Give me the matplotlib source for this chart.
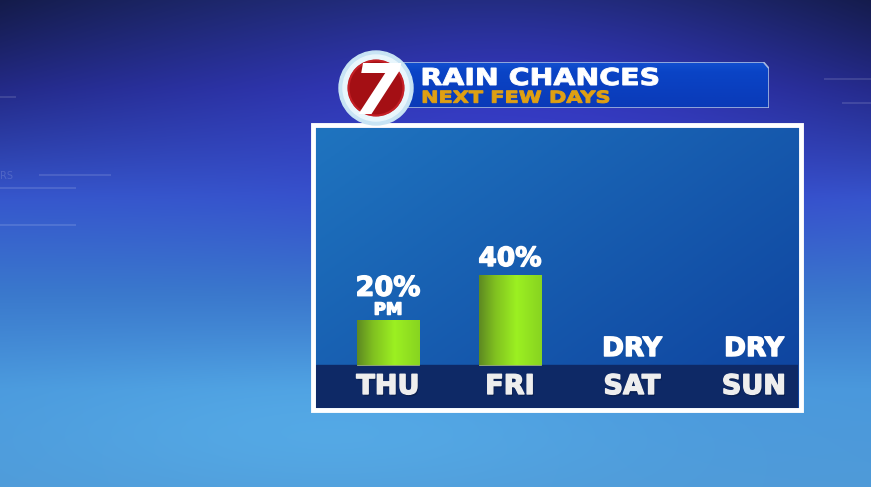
import numpy as np
import matplotlib
matplotlib.use("Agg")
import matplotlib.pyplot as plt
from matplotlib.colors import to_rgb
from matplotlib.patches import Rectangle, Circle, Polygon, PathPatch
from matplotlib.textpath import TextPath
from matplotlib.font_manager import FontProperties
from matplotlib.transforms import Affine2D
import matplotlib.patheffects as pe

# chart data
days = ["THU", "FRI", "SAT", "SUN"]
rain_chance = [20, 40, 0, 0]
top_labels = ["20%", "40%", "DRY", "DRY"]
sub_labels = ["PM", "", "", ""]
title = "RAIN CHANCES"
subtitle = "NEXT FEW DAYS"

W, H = 871, 487
FONT = "DejaVu Sans"


def ramp(stops, n):
    # stops: list of (pos, color) -> n x 3 array
    pos = np.array([s[0] for s in stops])
    cols = np.array([to_rgb(s[1]) for s in stops])
    t = np.linspace(0, 1, n)
    return np.stack([np.interp(t, pos, cols[:, k]) for k in range(3)], axis=1)


def px_axes(x0, y0, x1, y1):
    # axes placed in pixel coords (y from top)
    return fig.add_axes([x0 / W, 1 - y1 / H, (x1 - x0) / W, (y1 - y0) / H])


def wide_text(ax, s, x, baseline, cap_px, width_px, color):
    # header font is an extended face, so stretch a text path to the measured box
    fp = FontProperties(family=FONT, weight="bold")
    size = cap_px / 0.729
    tp = TextPath((0, 0), s, size=size, prop=fp)
    ext = tp.get_extents()
    sx = width_px / ext.width
    tr = Affine2D().translate(-ext.x0, 0).scale(sx, -1).translate(x, baseline)
    ax.add_patch(PathPatch(tr.transform_path(tp), fc=color, ec=color, lw=0.7, zorder=10))


fig = plt.figure(figsize=(W / 100, H / 100), dpi=100)

# ---- background
bg = fig.add_axes([0, 0, 1, 1])
bg.set_xlim(0, W)
bg.set_ylim(H, 0)
bg.axis("off")
vert = ramp([(0, "#1f2a72"), (0.18, "#2c34a8"), (0.4, "#3656cc"),
             (0.6, "#3a78cc"), (0.8, "#4a98dc"), (1, "#4f9ad8")], H)
horiz = np.linspace(-1, 1, W)
img = np.repeat(vert[:, None, :], W, axis=1)
yy, xx = np.mgrid[0:H, 0:W]
glow = np.exp(-(((xx - 560) / 260.0) ** 2 + ((yy - 130) / 120.0) ** 2))
img += glow[..., None] * (np.array(to_rgb("#3a3ad0")) - img) * 0.6
light = np.exp(-(((xx - 330) / 300.0) ** 2 + ((yy - 430) / 70.0) ** 2))
img += light[..., None] * (np.array(to_rgb("#5cb8f0")) - img) * 0.5
dark = np.clip(1 - yy / 200.0, 0, 1) * (np.abs(horiz)[None, :] ** 2)
img *= (1 - 0.35 * dark)[..., None]
bg.imshow(np.clip(img, 0, 1), extent=(0, W, H, 0), aspect="auto", zorder=0)
for y, x0, x1 in [(97, 0, 15), (175, 40, 110), (188, 0, 75), (225, 0, 75),
                  (79, 825, 871), (103, 843, 871)]:
    bg.plot([x0, x1], [y, y], color="white", alpha=0.12, lw=1.5)
bg.text(0, 176, "RS", color="white", alpha=0.15, fontsize=7, va="center")

# ---- panel frame
bg.add_patch(Rectangle((313, 125), 488, 285, fill=False, ec="white", lw=3.5, zorder=2))

ax = px_axes(316, 128, 798, 408)
px_per_pct = 2.25
base_px = 365
x_left = (316 - 388) / 122.0
x_right = (798 - 388) / 122.0
y_bot = -(408 - base_px) / px_per_pct
y_top = (base_px - 128) / px_per_pct
ax.set_xlim(x_left, x_right)
ax.set_ylim(y_bot, y_top)
ax.axis("off")

# diagonal blue gradient inside panel
gy, gx = np.mgrid[0:100, 0:100] / 99.0
tdiag = np.clip(0.55 * gx + 0.45 * gy, 0, 1)
c0, c1 = np.array(to_rgb("#1f74bf")), np.array(to_rgb("#0e429e"))
panel = c0 + tdiag[..., None] * (c1 - c0)
ax.imshow(panel, extent=(x_left, x_right, y_bot, y_top), aspect="auto", zorder=0)
ax.axhspan(y_bot, 0, color="#0e2966", zorder=1)

# bars
x = np.arange(len(days))
bars = ax.bar(x, rain_chance, width=0.51, color="#8fe020", ec="#9aa880", lw=0.6, zorder=2)
bar_grad = ramp([(0, "#5e8a22"), (0.25, "#80c020"), (0.6, "#9cf022"), (1, "#88d420")], 64)
for b, v in zip(bars, rain_chance):
    if v <= 0:
        b.set_linewidth(0)
        continue
    bx, by = b.get_x(), b.get_y()
    im = ax.imshow(bar_grad[None, :, :], extent=(bx, bx + b.get_width(), by, by + b.get_height()),
                   aspect="auto", zorder=2.5)
    im.set_clip_path(b)

heavy = [pe.withStroke(linewidth=1.0, foreground="white")]
shadow = [pe.withSimplePatchShadow(offset=(1, -1.5), shadow_rgbFace="#0a1a40", alpha=0.6),
          pe.withStroke(linewidth=1.0, foreground="#eeeeee")]
for xi, v, lab, sub in zip(x, rain_chance, top_labels, sub_labels):
    if sub:
        ax.annotate(sub, (xi, v), xytext=(0, 7.5), textcoords="offset points", ha="center", va="center",
                    color="white", fontsize=12, fontweight="bold", family=FONT, zorder=4,
                    path_effects=heavy)
        ax.annotate(lab, (xi, v), xytext=(0, 22.5), textcoords="offset points", ha="center", va="center",
                    color="white", fontsize=19.5, fontweight="bold", family=FONT, zorder=4,
                    path_effects=heavy)
    else:
        ax.annotate(lab, (xi, v), xytext=(0, 11.5), textcoords="offset points", ha="center", va="center",
                    color="white", fontsize=19, fontweight="bold", family=FONT, zorder=4,
                    path_effects=heavy)
    ax.text(xi, -(387 - base_px) / px_per_pct, days[xi], ha="center", va="center", color="#eeeeee",
            fontsize=19.5, fontweight="bold", family=FONT, zorder=4, path_effects=shadow)

# ---- header banner
hb = px_axes(400, 62, 769, 108)
hb.set_xlim(0, 1)
hb.set_ylim(0, 1)
hb.axis("off")
hb.imshow(ramp([(0, "#0a3ab8"), (0.8, "#0a44c6"), (1, "#1250d0")], 32)[:, None, :],
          extent=(0, 1, 0, 1), aspect="auto", origin="lower")
chamfer = Polygon([(0, 0), (0, 1), (0.985, 1), (1, 0.86), (1, 0), (0, 0)], closed=True,
                  fill=False, ec="#a8b8e0", lw=1.2)
hb.add_patch(chamfer)
hb.images[0].set_clip_path(chamfer)

# overlay for header text and logo
ov = fig.add_axes([0, 0, 1, 1])
ov.set_xlim(0, W)
ov.set_ylim(H, 0)
ov.axis("off")
ov.patch.set_alpha(0)
wide_text(ov, title, 423, 85, 17, 235, "white")
wide_text(ov, subtitle, 423, 102.7, 12, 186, "#e0a012")

ov.add_patch(Circle((376, 88), 37, color="#c8e4f4", zorder=7))
ov.add_patch(Circle((376, 88), 33, color="#e8f6fc", zorder=7))
red = Circle((376, 88), 27.5, color="#a40f14", zorder=8)
ov.add_patch(red)
ov.add_patch(Circle((376, 88), 27.5, fill=False, ec="#c42026", lw=1.5, zorder=8))
seven = ov.text(377, 95, "7", color="white", fontsize=50, fontweight="bold", style="italic", family=FONT,
                ha="center", va="center", zorder=9)
seven.set_clip_path(red)

fig.savefig("out.png", dpi=100)
